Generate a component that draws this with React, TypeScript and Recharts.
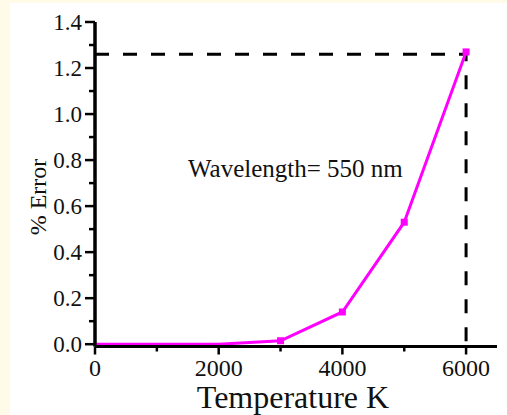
import { LineChart, Line, XAxis, YAxis } from 'recharts';

const tempK = [0, 1000, 2000, 3000, 4000, 5000, 6000];
const errorPct = [0, 0, 0, 0.015, 0.14, 0.53, 1.27];

// dashed guide to the 6000 K point
const guideX = [0, 6000, 6000];
const guideY = [1.26, 1.26, 0];

const xTicks = [0, 1000, 2000, 3000, 4000, 5000, 6000];
const yTicks = [0, 0.1, 0.2, 0.3, 0.4, 0.5, 0.6, 0.7, 0.8, 0.9, 1.0, 1.1, 1.2, 1.3, 1.4];

const FONT = "'Liberation Serif', 'Times New Roman', serif";
const MAGENTA = '#ff00ff';

const series = tempK.map((t, i) => ({ t, err: errorPct[i] }));
const guide = guideX.map((t, i) => ({ t, g: guideY[i] }));

const XTick = (props: any) => {
  const { x, y, payload } = props;
  const major = payload.value % 2000 === 0;
  return (
    <g>
      <line x1={x} x2={x} y1={y} y2={y + (major ? 8 : 5)} stroke="#000" strokeWidth={2.5} />
      {major && (
        <text x={x} y={y + 29.5} textAnchor="middle" fontSize={24} fontFamily={FONT} fill="#111">
          {payload.value}
        </text>
      )}
    </g>
  );
};

const YTick = (props: any) => {
  const { x, y, payload } = props;
  const major = Math.round(payload.value * 10) % 2 === 0;
  return (
    <g>
      <line x1={x - (major ? 10 : 6)} x2={x} y1={y} y2={y} stroke="#000" strokeWidth={2.5} />
      {major && (
        <text x={x - 13} y={y + 7.5} textAnchor="end" fontSize={23} fontFamily={FONT} fill="#111">
          {payload.value.toFixed(1)}
        </text>
      )}
    </g>
  );
};

// square markers; the ones lying on zero sit hidden under the axis
const Square = (props: any) => {
  const { cx, cy, payload } = props;
  if (cx == null || cy == null || !payload || payload.err <= 0) return null;
  return <rect x={cx - 3.5} y={cy - 3.5} width={7} height={7} fill={MAGENTA} />;
};

export default function App() {
  return (
    <div style={{ position: 'absolute', left: 0, top: 0, width: 507, height: 415, background: '#fffbe8' }}>
      <div style={{ position: 'absolute', left: 10, top: 3, width: 497, height: 412, background: '#fff' }} />
      <div style={{ position: 'absolute', left: 0, top: 0 }}>
        <LineChart width={507} height={415} margin={{ top: 22, right: 10, bottom: 8.5, left: 25 }}>
          <Line
            data={guide}
            dataKey="g"
            type="linear"
            stroke="#000"
            strokeWidth={3}
            strokeDasharray="14 14"
            dot={false}
            isAnimationActive={false}
          />
          <XAxis
            dataKey="t"
            type="number"
            domain={[0, 6500]}
            ticks={xTicks}
            interval={0}
            height={60}
            tickSize={0}
            tickMargin={0}
            tickLine={false}
            tick={<XTick />}
            axisLine={{ stroke: '#000', strokeWidth: 3 }}
            allowDuplicatedCategory={false}
          />
          <YAxis
            type="number"
            domain={[-0.01, 1.4]}
            ticks={yTicks}
            interval={0}
            width={70}
            tickSize={0}
            tickMargin={0}
            tickLine={false}
            tick={<YTick />}
            axisLine={{ stroke: '#000', strokeWidth: 3.5 }}
          />
          <XAxis xAxisId="top" orientation="top" type="number" domain={[0, 6500]} height={0} tick={false} tickLine={false} axisLine={{ stroke: '#000', strokeWidth: 3.5 }} />
          <YAxis yAxisId="right" orientation="right" type="number" domain={[-0.01, 1.4]} width={0} tick={false} tickLine={false} axisLine={{ stroke: '#000', strokeWidth: 3.5 }} />
          <Line
            data={series}
            dataKey="err"
            type="linear"
            stroke={MAGENTA}
            strokeWidth={3}
            dot={<Square />}
            isAnimationActive={false}
          />
        </LineChart>
      </div>
      <svg width={507} height={415} style={{ position: 'absolute', left: 0, top: 0, pointerEvents: 'none' }}>
        <text x={188} y={177} fontSize={25} fontFamily={FONT} fill="#111">
          Wavelength= 550 nm
        </text>
        <text x={293} y={408} textAnchor="middle" fontSize={32} fontFamily={FONT} fill="#111">
          Temperature K
        </text>
        <text transform="translate(46,197) rotate(-90)" textAnchor="middle" fontSize={24} fontFamily={FONT} fill="#111">
          % Error
        </text>
      </svg>
    </div>
  );
}
